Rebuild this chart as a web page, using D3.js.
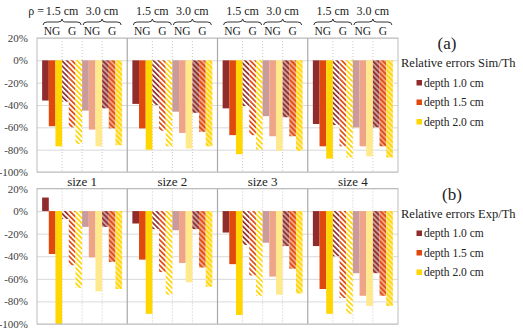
<!DOCTYPE html>
<html>
<head>
  <script src="https://cdnjs.cloudflare.com/ajax/libs/d3/7.8.5/d3.min.js" type="text/javascript"></script>
  <style>
    body { margin: 0; background: #fff; }
    svg text { font-family: "Liberation Serif", "Times New Roman", Times, serif; }
  </style>
</head>
<body>
  <svg id="chart" width="523" height="330"></svg>
  <script>

var sizes = ["size 1", "size 2", "size 3", "size 4"];
var rhoLabels = ["1.5 cm", "3.0 cm"];
var gLabels = ["NG", "G"];
var depths = ["depth 1.0 cm", "depth 1.5 cm", "depth 2.0 cm"];
var tickValues = [20, 0, -20, -40, -60, -80, -100];

// (a) Sim/Th, one row per size, one value per depth
var simR15NG = [[-36, -59, -77], [-39, -61, -80], [-43, -67, -84], [-57, -77, -88]];
var simR15G  = [[-37, -60, -75], [-40, -63, -77], [-41, -67, -80], [-58, -77, -87]];
var simR30NG = [[-45, -62, -77], [-46, -65, -79], [-50, -68, -81], [-60, -77, -86]];
var simR30G  = [[-43, -61, -76], [-47, -64, -77], [-51, -68, -81], [-60, -77, -87]];

// (b) Exp/Th
var expR15NG = [[12, -38, -100], [-11, -43, -91], [-19, -47, -92], [-31, -69, -91]];
var expR15G  = [[-7, -48, -68], [-16, -54, -74], [-30, -57, -75], [-40, -77, -91]];
var expR30NG = [[-14, -41, -71], [-17, -46, -63], [-28, -58, -74], [-55, -75, -84]];
var expR30G  = [[-14, -45, -69], [-16, -50, -67], [-31, -51, -73], [-55, -75, -84]];

var darkColors = ["#902c2c", "#e0490e", "#ffd600"];
var lightColors = ["#c99b9b", "#f0a487", "#ffe98c"];

var svg = d3.select("#chart");
var defs = svg.append("defs");

// hatch patterns
darkColors.forEach(function(c, i) {
  [["h15", "#ffffff"], ["h30", lightColors[i]]].forEach(function(p) {
    var pat = defs.append("pattern")
        .attr("id", p[0] + "-" + i)
        .attr("patternUnits", "userSpaceOnUse")
        .attr("width", 3.6).attr("height", 3.6)
        .attr("patternTransform", "rotate(-45)");
    pat.append("rect").attr("width", 3.6).attr("height", 3.6).attr("fill", p[1]);
    pat.append("rect").attr("width", 1.7).attr("height", 3.6).attr("fill", c);
  });
});

var left = 37, right = 398;
var xGroup = d3.scaleBand().domain(sizes).range([left, right]);
var xSub = d3.scaleBand().domain([0, 1, 2, 3]).range([0, xGroup.bandwidth()]).paddingOuter(0.256);
var xBar = d3.scaleBand().domain([0, 1, 2]).range([0, xSub.bandwidth()]);

function fillFor(s, d) {
  if (s === 0) return darkColors[d];
  if (s === 1) return "url(#h15-" + d + ")";
  if (s === 2) return lightColors[d];
  return "url(#h30-" + d + ")";
}

function drawPanel(series, top, bottom, tag, title, tagX) {
  var y = d3.scaleLinear().domain([-100, 20]).range([bottom, top]);
  var g = svg.append("g");

  // gridlines
  g.append("g")
      .attr("transform", "translate(" + left + ",0)")
      .call(d3.axisLeft(y).tickValues(tickValues).tickSize(-(right - left)).tickFormat(""))
      .call(function(a) { a.select(".domain").remove(); })
      .selectAll("line").attr("stroke", "#d9d9d9");

  // tick labels
  g.append("g")
      .attr("transform", "translate(" + left + ",0)")
      .attr("font-family", null)
      .call(d3.axisLeft(y).tickValues(tickValues).tickSize(0).tickPadding(9)
        .tickFormat(function(d) { return d + "%"; }))
      .call(function(a) { a.select(".domain").remove(); })
      .selectAll("text")
      .style("font-size", "11px")
      .attr("fill", "#404040");

  // dotted subgroup lines
  sizes.forEach(function(sz) {
    [1, 2, 3].forEach(function(s) {
      var x = xGroup(sz) + xSub(s);
      g.append("line")
          .attr("x1", x).attr("x2", x).attr("y1", top).attr("y2", bottom)
          .attr("stroke", "#c8c8c8").attr("stroke-dasharray", "1,2");
    });
  });

  // bars
  series.forEach(function(vals, s) {
    sizes.forEach(function(sz, gi) {
      vals[gi].forEach(function(v, d) {
        g.append("rect")
            .attr("x", xGroup(sz) + xSub(s) + xBar(d))
            .attr("width", xBar.bandwidth())
            .attr("y", y(Math.max(0, v)))
            .attr("height", Math.abs(y(v) - y(0)))
            .attr("fill", fillFor(s, d));
      });
    });
  });

  // group separators and frame
  sizes.slice(1).forEach(function(sz) {
    g.append("line")
        .attr("x1", xGroup(sz)).attr("x2", xGroup(sz)).attr("y1", top).attr("y2", bottom)
        .attr("stroke", "#a8a8a8").attr("stroke-width", 1.2);
  });
  g.append("rect")
      .attr("x", left).attr("y", top).attr("width", right - left).attr("height", bottom - top)
      .attr("fill", "none").attr("stroke", "#bdbdbd");

  // legend
  svg.append("text").attr("x", tagX).attr("y", top + 11).attr("text-anchor", "middle")
      .style("font-size", "17px").attr("fill", "#222").text(tag);
  svg.append("text").attr("x", 401).attr("y", top + 29)
      .style("font-size", "12.5px").attr("fill", "#222").text(title);
  depths.forEach(function(name, i) {
    var cy = top + 45 + i * 19.5;
    svg.append("rect").attr("x", 416.5).attr("y", cy - 3).attr("width", 5.5).attr("height", 5.5)
        .attr("fill", darkColors[i]);
    svg.append("text").attr("x", 424).attr("y", cy + 3.5)
        .style("font-size", "11.5px").attr("fill", "#222").text(name);
  });
}

drawPanel([simR15NG, simR15G, simR30NG, simR30G], 38, 172, "(a)", "Relative errors Sim/Th", 447);
drawPanel([expR15NG, expR15G, expR30NG, expR30G], 188.5, 324, "(b)", "Relative errors Exp/Th", 452);

// size labels
sizes.forEach(function(sz) {
  svg.append("text")
      .attr("x", xGroup(sz) + xGroup.bandwidth() / 2).attr("y", 186)
      .attr("text-anchor", "middle").style("font-size", "13px").attr("fill", "#222")
      .text(sz);
});

// header: rho braces and NG / G
function brace(x0, x1, yb) {
  var cx = (x0 + x1) / 2;
  return "M" + x0 + "," + (yb + 4) + " Q" + x0 + "," + (yb + 1) + " " + (x0 + 4) + "," + (yb + 1) +
    " L" + (cx - 4) + "," + (yb + 1) + " Q" + cx + "," + (yb + 1) + " " + cx + "," + (yb - 2) +
    " Q" + cx + "," + (yb + 1) + " " + (cx + 4) + "," + (yb + 1) +
    " L" + (x1 - 4) + "," + (yb + 1) + " Q" + x1 + "," + (yb + 1) + " " + x1 + "," + (yb + 4);
}

sizes.forEach(function(sz, gi) {
  rhoLabels.forEach(function(r, ri) {
    var x0 = xGroup(sz) + xSub(ri * 2);
    var x1 = xGroup(sz) + xSub(ri * 2 + 1) + xSub.bandwidth();
    svg.append("path").attr("d", brace(x0 + 1, x1 - 1, 21))
        .attr("fill", "none").attr("stroke", "#333").attr("stroke-width", 1);
    svg.append("text").attr("x", (x0 + x1) / 2).attr("y", 15).attr("text-anchor", "middle")
        .style("font-size", "12px").attr("fill", "#222").text(r);
    if (gi === 0 && ri === 0) {
      svg.append("text").attr("x", (x0 + x1) / 2 - 18).attr("y", 15).attr("text-anchor", "end")
          .style("font-size", "12px").attr("fill", "#222").text("\u03c1 =");
    }
    gLabels.forEach(function(gl, k) {
      svg.append("text")
          .attr("x", xGroup(sz) + xSub(ri * 2 + k) + xSub.bandwidth() / 2).attr("y", 35)
          .attr("text-anchor", "middle").style("font-size", "11.5px").attr("fill", "#222")
          .text(gl);
    });
  });
});
  </script>
</body>
</html>
